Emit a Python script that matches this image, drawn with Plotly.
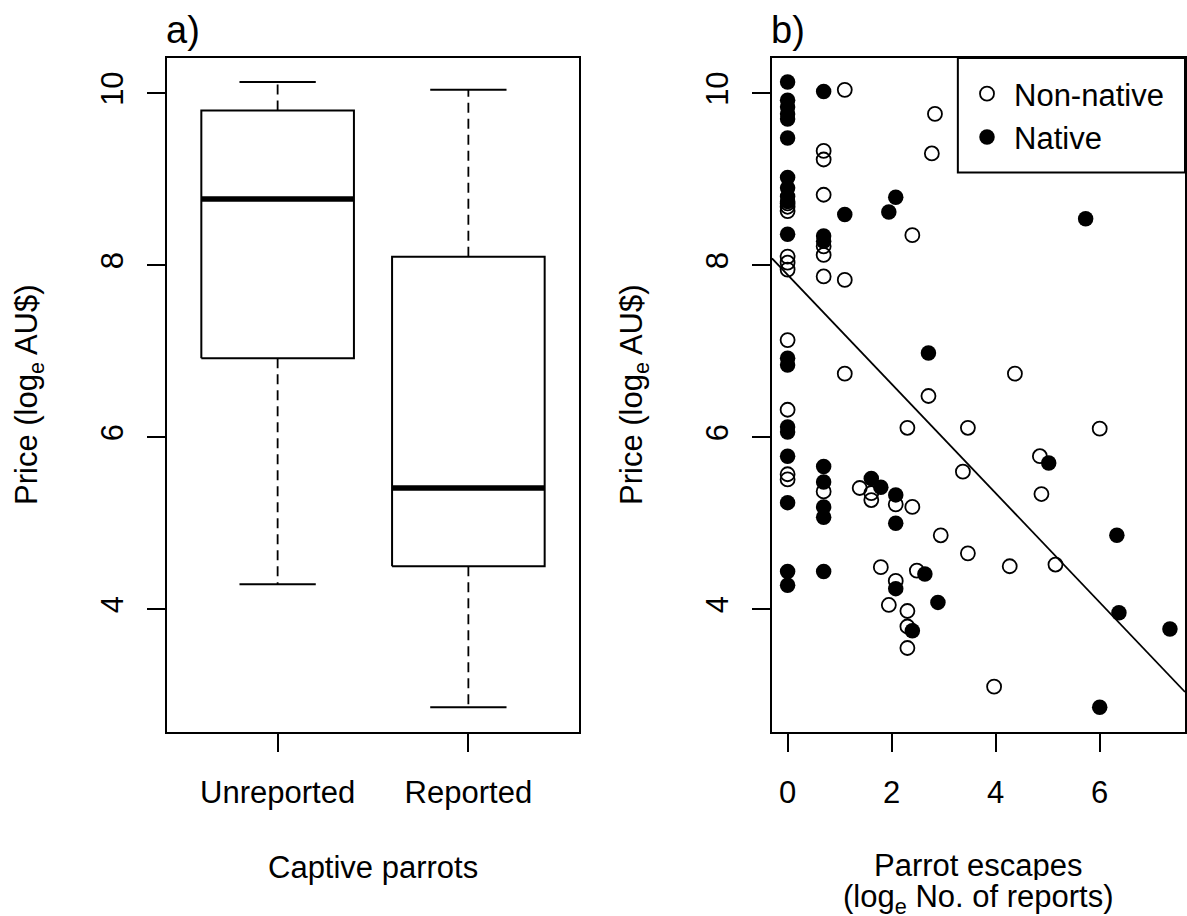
import numpy as np
import plotly.graph_objects as go

# ---------------- data ----------------
# Panel a) boxplot statistics (log_e AU$)
categories = ["Unreported", "Reported"]
box_lower = [4.29, 2.86]
box_q1 = [6.92, 4.50]
box_median = [8.77, 5.41]
box_q3 = [9.80, 8.10]
box_upper = [10.13, 10.04]

# Panel b) scatter: x = log_e No. of reports, y = log_e price
nonnative_x = [0, 0, 0, 0, 0, 0, 0, 0, 0, 0,
               0.693, 0.693, 0.693, 0.693, 0.693, 0.693, 0.693,
               1.099, 1.099, 1.099,
               1.386, 1.609, 1.609, 1.792, 1.946, 2.079, 2.079,
               2.303, 2.303, 2.303, 2.303, 2.398, 2.398, 2.485,
               2.708, 2.773, 2.833, 2.944, 3.37, 3.466, 3.466,
               3.97, 4.27, 4.37, 4.85, 4.88, 5.15, 6.0]
nonnative_y = [8.72, 8.63, 8.10, 8.03, 7.95, 7.13, 6.32, 5.57, 5.51, 8.68,
               9.33, 9.23, 8.82, 8.22, 8.12, 7.87, 5.37,
               10.04, 7.83, 6.74,
               5.41, 5.35, 5.27, 4.49, 4.05, 5.22, 4.33,
               6.11, 3.98, 3.80, 3.55, 8.35, 5.19, 4.45,
               6.48, 9.30, 9.76, 4.86, 5.60, 6.11, 4.65,
               3.10, 4.50, 6.74, 5.78, 5.34, 4.52, 6.10]

native_x = [0, 0, 0, 0, 0, 0, 0, 0, 0, 0, 0, 0, 0, 0, 0, 0, 0, 0, 0,
            0.693, 0.693, 0.693, 0.693, 0.693, 0.693, 0.693, 0.693,
            1.099, 1.609, 1.792, 1.946,
            2.079, 2.079, 2.079, 2.079, 2.398, 2.639, 2.708, 2.890,
            5.02, 5.73, 6.0, 6.33, 6.37, 7.35]
native_y = [10.13, 9.92, 9.84, 9.76, 9.70, 9.48, 9.02, 8.90, 8.80, 8.74,
            8.36, 6.92, 6.84, 6.12, 6.06, 5.78, 5.24, 4.44, 4.28,
            10.02, 8.34, 8.28, 5.66, 5.48, 5.19, 5.07, 4.44,
            8.59, 5.52, 5.42, 8.62,
            8.79, 5.33, 5.00, 4.24, 3.75, 4.41, 6.98, 4.08,
            5.70, 8.54, 2.86, 4.86, 3.96, 3.77]

# fitted regression line (abline) coefficients
reg_intercept = 7.89
reg_slope = -0.635

y_ticks = [4, 6, 8, 10]
x2_ticks = [0, 2, 4, 6]

# ---------------- styling ----------------
W, H = 1187, 916
FONT = "Liberation Sans, Arial, sans-serif"
FS = 31
y_range = [2.573, 10.41]
x1_range = [0.42, 2.58]
x2_range = [-0.30, 7.64]
box_half = 0.4
staple_half = 0.2

fig = go.Figure()

# ---- panel a: boxplots ----
positions = np.arange(1, len(categories) + 1)
for p, lo, q1, md, q3, up in zip(positions, box_lower, box_q1, box_median, box_q3, box_upper):
    fig.add_trace(go.Scatter(x=[p, p, None, p, p], y=[q3, up, None, q1, lo],
                             mode="lines", line=dict(color="black", width=1.8, dash="10px,6px"),
                             xaxis="x", yaxis="y", showlegend=False, hoverinfo="skip"))
    fig.add_trace(go.Scatter(x=[p - staple_half, p + staple_half, None, p - staple_half, p + staple_half],
                             y=[up, up, None, lo, lo],
                             mode="lines", line=dict(color="black", width=2),
                             xaxis="x", yaxis="y", showlegend=False, hoverinfo="skip"))
    fig.add_trace(go.Scatter(x=[p - box_half, p + box_half, p + box_half, p - box_half, p - box_half],
                             y=[q1, q1, q3, q3, q1],
                             mode="lines", line=dict(color="black", width=2),
                             xaxis="x", yaxis="y", showlegend=False, hoverinfo="skip"))
    fig.add_trace(go.Scatter(x=[p - box_half, p + box_half], y=[md, md],
                             mode="lines", line=dict(color="black", width=5.5),
                             xaxis="x", yaxis="y", showlegend=False, hoverinfo="skip"))

# ---- panel b: scatter ----
fig.add_trace(go.Scatter(x=nonnative_x, y=nonnative_y, mode="markers", name="Non-native",
                         marker=dict(symbol="circle-open", size=14, color="black", line=dict(width=1.8)),
                         xaxis="x2", yaxis="y2"))
fig.add_trace(go.Scatter(x=native_x, y=native_y, mode="markers", name="Native",
                         marker=dict(symbol="circle", size=15.5, color="black", line=dict(width=0)),
                         xaxis="x2", yaxis="y2"))
line_x = np.array(x2_range)
fig.add_trace(go.Scatter(x=line_x, y=reg_intercept + reg_slope * line_x, mode="lines",
                         line=dict(color="black", width=1.8), xaxis="x2", yaxis="y2",
                         showlegend=False, hoverinfo="skip"))

axis_common = dict(showline=True, mirror=True, linecolor="black", linewidth=2,
                   ticks="outside", ticklen=18, tickwidth=1.8, tickcolor="black",
                   showgrid=False, zeroline=False,
                   tickfont=dict(family=FONT, size=FS, color="black"))

dom_y = [1 - 732 / H, 1 - 58 / H]
fig.update_layout(
    width=W, height=H, autosize=False,
    margin=dict(l=0, r=0, t=0, b=0),
    paper_bgcolor="white", plot_bgcolor="white",
    font=dict(family=FONT, size=FS, color="black"),
    xaxis=dict(domain=[167 / W, 579 / W], range=x1_range, tickvals=list(positions),
               ticktext=categories, ticklabelstandoff=14, anchor="y", **axis_common),
    yaxis=dict(domain=dom_y, range=y_range, tickvals=y_ticks, tickangle=-90,
               ticklabelstandoff=12, anchor="x", **axis_common),
    xaxis2=dict(domain=[772 / W, 1185 / W], range=x2_range, tickvals=x2_ticks,
                ticklabelstandoff=14, anchor="y2", **axis_common),
    yaxis2=dict(domain=dom_y, range=y_range, tickvals=y_ticks, tickangle=-90,
                ticklabelstandoff=12, anchor="x2", **axis_common),
    showlegend=True,
    legend=dict(x=960 / W, y=1 - 67 / H, xanchor="left", yanchor="top",
                bgcolor="rgba(0,0,0,0)", borderwidth=0, itemwidth=44,
                font=dict(family=FONT, size=FS, color="black"), tracegroupgap=0),
)

# legend frame
fig.add_shape(type="rect", xref="x2 domain", yref="y2 domain", x0=0.45, x1=1.0, y0=0.83, y1=1.0,
              line=dict(color="black", width=2), fillcolor="rgba(0,0,0,0)")

def add_text(text, xref, yref, x, y, xanchor="center", yanchor="middle", angle=0, size=FS, height=None):
    fig.add_annotation(text=text, xref=xref, yref=yref, x=x, y=y, xanchor=xanchor, yanchor=yanchor,
                       textangle=angle, showarrow=False, height=height, valign="middle",
                       font=dict(family=FONT, size=size, color="black"))

add_text("a)", "x domain", "y domain", -0.008, 1 + (58 - 30) / 674, xanchor="left", size=38)
add_text("b)", "x2 domain", "y2 domain", -0.008, 1 + (58 - 30) / 674, xanchor="left", size=38)
add_text("Captive parrots", "x domain", "y domain", 0.5, -(867 - 732) / 674)
add_text("Parrot escapes", "x2 domain", "y2 domain", 0.5, -(865 - 732) / 674, height=30)
add_text("(log<sub>e</sub> No. of reports)", "x2 domain", "y2 domain", 0.5, -(899 - 732) / 674, height=30)
add_text("Price (log<sub>e</sub> AU$)", "x domain", "y domain", (29 - 167) / 412, 0.5, angle=-90)
add_text("Price (log<sub>e</sub> AU$)", "x2 domain", "y2 domain", (634 - 772) / 413, 0.5, angle=-90)

fig.write_html("out.html", config={"displayModeBar": False},
               post_script="document.body.style.margin='0';document.body.style.overflow='hidden';")
